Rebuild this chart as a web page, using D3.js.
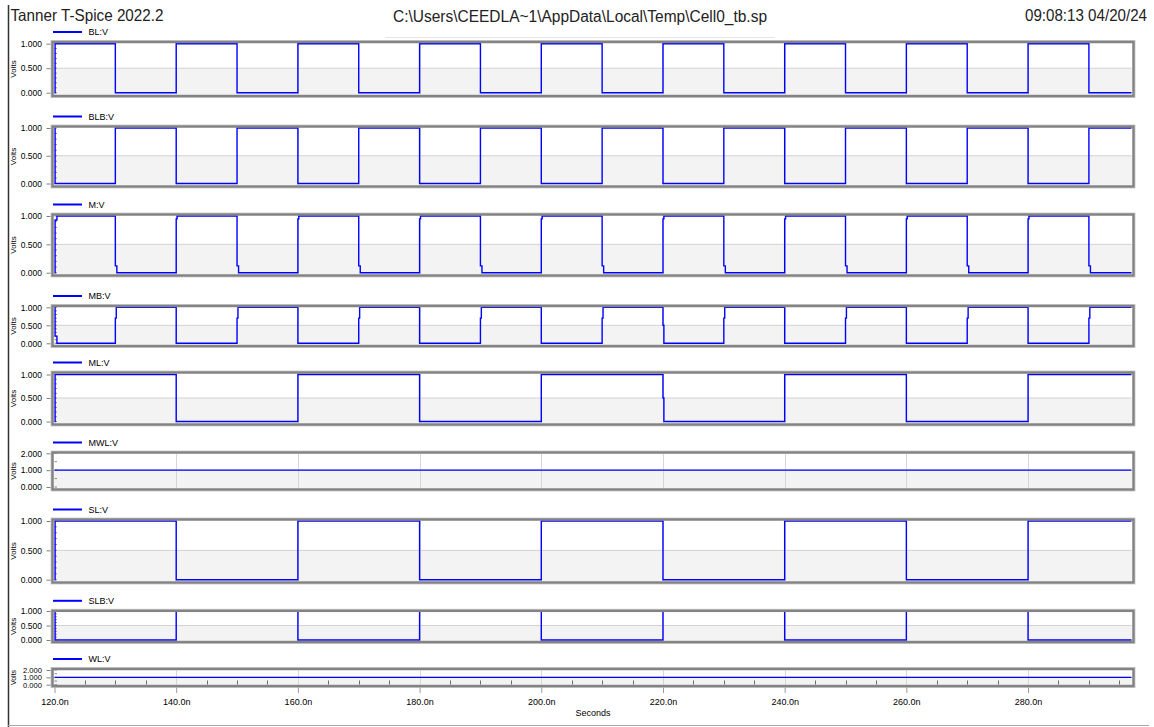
<!DOCTYPE html>
<html>
<head>
<meta charset="utf-8">
<script src="https://cdn.jsdelivr.net/npm/d3@7"></script>
<style>
  html, body { margin: 0; padding: 0; background: #fff; }
  svg { display: block; font-family: "Liberation Sans", Arial, sans-serif; }
</style>
</head>
<body>
<script>
const signalNames = ['BL:V', 'BLB:V', 'M:V', 'MB:V', 'ML:V', 'MWL:V', 'SL:V', 'SLB:V', 'WL:V'];
const signalMax = [1, 1, 1, 1, 1, 2, 1, 1, 2];

// each point: [time ns, volts] -- value holds from that time on
const blSteps = [[120, 0], [120.1, 1], [130, 0], [140, 1], [150, 0], [160, 1], [170, 0], [180, 1], [190, 0],
  [200, 1], [210, 0], [220, 1], [230, 0], [240, 1], [250, 0], [260, 1], [270, 0], [280, 1], [290, 0], [297, 0]];
const blbSteps = [[120, 1], [120.1, 0], [130, 1], [140, 0], [150, 1], [160, 0], [170, 1], [180, 0], [190, 1],
  [200, 0], [210, 1], [220, 0], [230, 1], [240, 0], [250, 1], [260, 0], [270, 1], [280, 0], [290, 1], [297, 1]];
const mSteps = [[120, 0], [120.1, 0.93], [120.4, 1],
  [130, 0.12], [130.25, 0], [140, 0.95], [140.15, 1],
  [150, 0.12], [150.25, 0], [160, 0.95], [160.15, 1],
  [170, 0.12], [170.25, 0], [180, 0.95], [180.15, 1],
  [190, 0.12], [190.25, 0], [200, 0.95], [200.15, 1],
  [210, 0.12], [210.25, 0], [220, 0.95], [220.15, 1],
  [230, 0.12], [230.25, 0], [240, 0.95], [240.15, 1],
  [250, 0.12], [250.25, 0], [260, 0.95], [260.15, 1],
  [270, 0.12], [270.25, 0], [280, 0.95], [280.15, 1],
  [290, 0.12], [290.25, 0], [297, 0]];
const mbSteps = [[120, 1], [120.1, 0.2], [120.4, 0],
  [130, 0.7], [130.15, 1], [140, 0], [150, 0.7], [150.15, 1], [160, 0],
  [170, 0.7], [170.15, 1], [180, 0], [190, 0.7], [190.15, 1], [200, 0],
  [210, 0.7], [210.15, 1], [220, 0.5], [220.15, 0], [230, 0.7], [230.15, 1], [240, 0],
  [250, 0.7], [250.15, 1], [260, 0], [270, 0.7], [270.15, 1], [280, 0],
  [290, 0.7], [290.15, 1], [297, 1]];
const mlSteps = [[120, 0], [120.1, 1], [140, 0], [160, 1], [180, 0], [200, 1], [220, 0.5], [220.15, 0],
  [240, 1], [260, 0], [280, 1], [297, 1]];
const mwlSteps = [[120, 1], [297, 1]];
const slSteps = [[120, 0], [120.1, 1], [140, 0], [160, 1], [180, 0], [200, 1], [220, 0], [240, 1],
  [260, 0], [280, 1], [297, 1]];
const slbSteps = [[120, 1], [120.1, 0], [140, 1], [160, 0], [180, 1], [200, 0], [220, 1], [240, 0],
  [260, 1], [280, 0], [297, 0]];
const wlSteps = [[120, 1], [297, 1]];

const signalData = [blSteps, blbSteps, mSteps, mbSteps, mlSteps, mwlSteps, slSteps, slbSteps, wlSteps];

const timeTicks = [120, 140, 160, 180, 200, 220, 240, 260, 280];
const timeDomain = [120, 297];

const headerLeft = 'Tanner T-Spice 2022.2';
const headerMid = 'C:\\Users\\CEEDLA~1\\AppData\\Local\\Temp\\Cell0_tb.sp';
const headerRight = '09:08:13 04/20/24';

// ---- layout ----
const WIDTH = 1154;
const HEIGHT = 727;
const LEFT = 54.5;
const RIGHT = 1131.5;
const TRACE = '#0000ff';

// frame box and where max / zero land, per panel
const boxes = [
  { top: 40.5, bottom: 97.5, y1: 43.7, y0: 92.7 },
  { top: 125, bottom: 188, y1: 128, y0: 183.5 },
  { top: 213, bottom: 277, y1: 216, y0: 272.7 },
  { top: 304.5, bottom: 347.5, y1: 307.3, y0: 343.3 },
  { top: 371, bottom: 426, y1: 374.5, y0: 421.5 },
  { top: 451, bottom: 491, y1: 453.3, y0: 487 },
  { top: 518, bottom: 584, y1: 521, y0: 579.7 },
  { top: 609.3, bottom: 643.5, y1: 611, y0: 640 },
  { top: 667.5, bottom: 687.5, y1: 670, y0: 684.7 },
];

const svg = d3.select('body')
  .append('svg')
  .attr('width', WIDTH)
  .attr('height', HEIGHT);

const x = d3.scaleLinear().domain(timeDomain).range([LEFT, RIGHT]);

// header
svg.append('text')
  .attr('x', 10.5).attr('y', 21)
  .attr('font-size', 16.5).attr('fill', '#222')
  .attr('textLength', 153).attr('lengthAdjust', 'spacingAndGlyphs')
  .text(headerLeft);
svg.append('text')
  .attr('x', 393).attr('y', 21.5)
  .attr('font-size', 16).attr('fill', '#222')
  .attr('textLength', 374).attr('lengthAdjust', 'spacingAndGlyphs')
  .text(headerMid);
svg.append('text')
  .attr('x', 1025).attr('y', 21)
  .attr('font-size', 16).attr('fill', '#222')
  .attr('textLength', 122).attr('lengthAdjust', 'spacingAndGlyphs')
  .text(headerRight);

// window edges
svg.append('line')
  .attr('x1', 8.5).attr('x2', 8.5).attr('y1', 5).attr('y2', HEIGHT)
  .attr('stroke', '#333').attr('stroke-width', 1.5);
svg.append('line')
  .attr('x1', 8).attr('x2', 1149).attr('y1', 725.5).attr('y2', 725.5)
  .attr('stroke', '#a8a8a8').attr('stroke-width', 1);
svg.append('line')
  .attr('x1', 385).attr('x2', 775).attr('y1', 37.5).attr('y2', 37.5)
  .attr('stroke', '#e6e6e6').attr('stroke-width', 1);

const line = d3.line().curve(d3.curveStepAfter);

signalNames.forEach((name, i) => {
  const b = boxes[i];
  const vmax = signalMax[i];
  const y = d3.scaleLinear().domain([0, vmax]).range([b.y0, b.y1]);
  const g = svg.append('g').attr('class', 'panel');
  const inTop = b.top + 3;
  const inBottom = b.bottom - 3;
  const mid = y(vmax / 2);
  const small = b.y0 - b.y1 < 20;

  // banded background
  g.append('rect')
    .attr('x', LEFT - 1).attr('y', inTop)
    .attr('width', RIGHT - LEFT + 2).attr('height', mid - inTop)
    .attr('fill', '#ffffff');
  g.append('rect')
    .attr('x', LEFT - 1).attr('y', mid)
    .attr('width', RIGHT - LEFT + 2).attr('height', inBottom - mid)
    .attr('fill', '#f3f3f3');

  // grid
  g.append('line')
    .attr('x1', LEFT).attr('x2', RIGHT)
    .attr('y1', mid).attr('y2', mid)
    .attr('stroke', '#d2d2d2');
  g.selectAll('line.vgrid')
    .data(timeTicks.slice(1))
    .join('line')
    .attr('class', 'vgrid')
    .attr('x1', (d) => Math.round(x(d)) + 0.5)
    .attr('x2', (d) => Math.round(x(d)) + 0.5)
    .attr('y1', inTop).attr('y2', inBottom)
    .attr('stroke', '#d6d6d6');

  // small ticks on inner left edge
  g.selectAll('line.minor')
    .data(y.ticks(vmax === 1 ? 10 : 4))
    .join('line')
    .attr('class', 'minor')
    .attr('x1', LEFT).attr('x2', LEFT + 2.5)
    .attr('y1', (d) => y(d)).attr('y2', (d) => y(d))
    .attr('stroke', '#8a8a8a');

  // trace
  g.append('path')
    .datum(signalData[i])
    .attr('fill', 'none')
    .attr('stroke', TRACE)
    .attr('stroke-width', 1.4)
    .attr('d', line.x((d) => x(d[0])).y((d) => y(d[1])));

  // frame
  g.append('rect')
    .attr('x', LEFT - 3.5).attr('y', b.top)
    .attr('width', RIGHT - LEFT + 7).attr('height', b.bottom - b.top)
    .attr('fill', 'none')
    .attr('stroke', '#cfcfcf').attr('stroke-width', 1);
  g.append('rect')
    .attr('x', LEFT - 2).attr('y', b.top + 1.5)
    .attr('width', RIGHT - LEFT + 4).attr('height', b.bottom - b.top - 3)
    .attr('fill', 'none')
    .attr('stroke', '#838383').attr('stroke-width', 2.5);

  // y axis
  const yAxis = g.append('g')
    .attr('transform', `translate(${LEFT - 4},0)`)
    .call(d3.axisLeft(y).tickValues([0, vmax / 2, vmax]).tickSize(4).tickPadding(4.5)
      .tickFormat(d3.format('.3f')));
  yAxis.select('.domain').remove();
  yAxis.selectAll('line').attr('stroke', '#808080');
  yAxis.selectAll('text')
    .attr('font-family', '"Liberation Sans", Arial, sans-serif')
    .attr('font-size', small ? 7.6 : 8.5).attr('fill', '#000');

  svg.append('text')
    .attr('transform', `translate(15.5,${(b.top + b.bottom) / 2}) rotate(-90)`)
    .attr('text-anchor', 'middle')
    .attr('font-size', small ? 7 : 8).attr('fill', '#000')
    .text('Volts');

  // legend
  const ly = b.top - 8.5;
  svg.append('line')
    .attr('x1', 53).attr('x2', 82).attr('y1', ly).attr('y2', ly)
    .attr('stroke', TRACE).attr('stroke-width', 2);
  svg.append('text')
    .attr('x', 88.5).attr('y', ly).attr('dy', '0.35em')
    .attr('font-size', 9).attr('fill', '#000')
    .text(name);
});

// time axis under the last panel
const last = boxes[boxes.length - 1];
const xMinor = d3.range(125, 297, 5).filter((d) => d % 20 !== 0);
svg.append('g')
  .selectAll('line')
  .data(xMinor)
  .join('line')
  .attr('x1', (d) => Math.round(x(d)) + 0.5)
  .attr('x2', (d) => Math.round(x(d)) + 0.5)
  .attr('y1', last.bottom - 3).attr('y2', last.bottom - 7)
  .attr('stroke', '#6a6a6a');

const xAxis = svg.append('g')
  .attr('transform', `translate(0,${last.bottom})`)
  .call(d3.axisBottom(x).tickValues(timeTicks).tickSize(5.5).tickPadding(6)
    .tickFormat((d) => d.toFixed(1) + 'n'));
xAxis.select('.domain').remove();
xAxis.selectAll('line').attr('stroke', '#9a9a9a');
xAxis.selectAll('text')
  .attr('font-family', '"Liberation Sans", Arial, sans-serif')
  .attr('font-size', 9).attr('fill', '#000');

svg.append('text')
  .attr('x', (LEFT + RIGHT) / 2).attr('y', 713).attr('dy', '0.35em')
  .attr('text-anchor', 'middle')
  .attr('font-size', 9).attr('fill', '#000')
  .text('Seconds');
</script>
</body>
</html>
